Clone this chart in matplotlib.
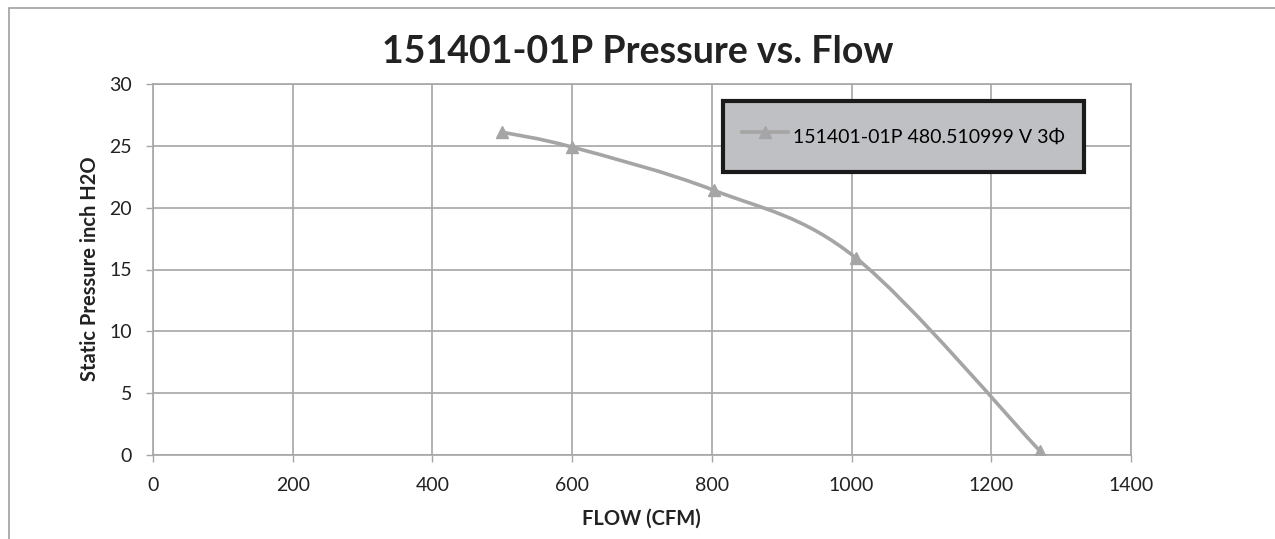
import matplotlib
matplotlib.use("Agg")
import matplotlib.pyplot as plt
from matplotlib.path import Path
from matplotlib.patches import PathPatch, Rectangle
from matplotlib.lines import Line2D
import numpy as np

# ---- data ----
flow_cfm = [500, 600, 803, 1007, 1270]
pressure_inh2o = [26.1, 24.9, 21.4, 15.9, 0.3]
x_ticks = [0, 200, 400, 600, 800, 1000, 1200, 1400]
y_ticks = [0, 5, 10, 15, 20, 25, 30]
title = "151401-01P Pressure vs. Flow"
series_label = "151401-01P 480.510999 V 3\u03a6"
x_label = "FLOW (CFM)"
y_label = "Static Pressure inch H2O"

FONT = ["Lato", "DejaVu Sans"]
plt.rcParams["font.family"] = FONT
GRID = "#a6a6a6"
LINE = "#a5a5a5"
TXT = "#222222"

fig = plt.figure(figsize=(12.75, 5.39), dpi=100)
# outer chart border
fig.patches.append(Rectangle((9 / 1275, -0.1), 1.2, 1 - 8 / 539 + 0.1,
                             transform=fig.transFigure, fill=False,
                             edgecolor="#a0a0a0", linewidth=1.2))

ax = fig.add_axes([153 / 1275, 1 - 455 / 539, (1131 - 153) / 1275, (455 - 84) / 539])
ax.set_xlim(0, 1400)
ax.set_ylim(0, 30)
ax.set_xticks(x_ticks)
ax.set_yticks(y_ticks)
ax.grid(True, color=GRID, linewidth=1.2)
ax.set_axisbelow(True)
for s in ax.spines.values():
    s.set_color(GRID)
    s.set_linewidth(1.2)
ax.tick_params(axis="both", direction="out", length=5, width=1, color=GRID,
               labelsize=14, labelcolor=TXT)
ax.tick_params(axis="x", pad=11)
ax.tick_params(axis="y", pad=10)

# smoothed line (Bezier through the points, like a spreadsheet smooth line)
x = np.array(flow_cfm, dtype=float)
y = np.array(pressure_inh2o, dtype=float)
P = np.column_stack([x, y])
Pe = np.vstack([P[0], P, P[-1]])
verts = [tuple(P[0])]
codes = [Path.MOVETO]
for i in range(len(P) - 1):
    p0, p1, p2, p3 = Pe[i], Pe[i + 1], Pe[i + 2], Pe[i + 3]
    c1 = p1 + (p2 - p0) / 6
    c2 = p2 - (p3 - p1) / 6
    verts += [tuple(c1), tuple(c2), tuple(p2)]
    codes += [Path.CURVE4] * 3
ax.add_patch(PathPatch(Path(verts, codes), fill=False, edgecolor=LINE,
                       linewidth=2.6, capstyle="round", zorder=3))
ax.plot(flow_cfm, pressure_inh2o, linestyle="none", marker="^", markersize=9,
        color=LINE, zorder=4)

handle = Line2D([], [], color=LINE, linewidth=2.6, marker="^", markersize=8)
leg = ax.legend([handle], [series_label], loc="center",
                bbox_to_anchor=(903.5 / 1275, 1 - 136.5 / 539),
                bbox_transform=fig.transFigure, fontsize=14, frameon=True,
                fancybox=False, borderpad=1.0, handlelength=2.35,
                handleheight=2.1, handletextpad=0.25, borderaxespad=0)
fr = leg.get_frame()
fr.set_facecolor("#bfc0c4")
fr.set_edgecolor("#1a1a1a")
fr.set_linewidth(3.0)
fr.set_alpha(1)

fig.text(638 / 1275, 1 - 52 / 539, title, ha="center", va="center",
         fontsize=27, fontweight="bold", color=TXT)
fig.text(641 / 1275, 1 - 519 / 539, x_label, ha="center", va="center",
         fontsize=14.5, fontweight="bold", color=TXT)
fig.text(90 / 1275, 1 - 269 / 539, y_label, ha="center", va="center",
         rotation=90, fontsize=14.5, fontweight="bold", color=TXT)

fig.savefig("out.png", dpi=100)
